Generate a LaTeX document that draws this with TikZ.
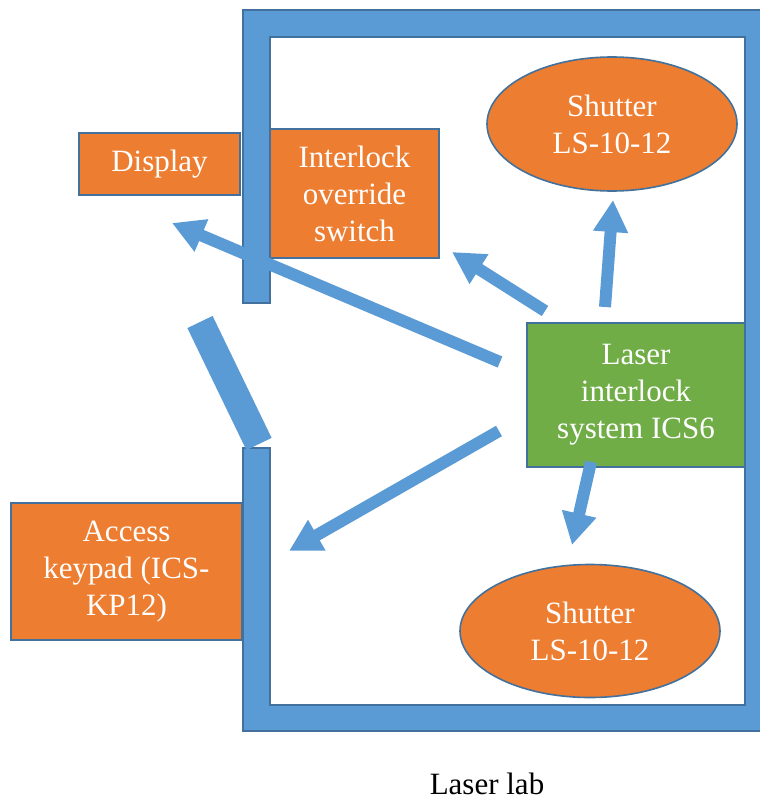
\documentclass[tikz,border=0pt]{standalone}
\usepackage{fontspec}
\setmainfont{Liberation Serif}
\usetikzlibrary{shapes.geometric,arrows.meta,positioning}

\definecolor{wallblue}{HTML}{5B9BD5}
\definecolor{edgeblue}{HTML}{41719C}
\definecolor{boxorange}{HTML}{ED7D31}
\definecolor{boxgreen}{HTML}{70AD47}

\tikzset{
  device/.style={rectangle, fill=boxorange, draw=edgeblue, line width=0.8pt,
    text=white, align=center, inner sep=0pt, font=\fontsize{15.5}{18.5}\selectfont},
  shutter/.style={device, ellipse},
  signal/.style={wallblue, line width=6pt, -{Triangle[width=16.5pt,length=16pt]}},
}

\begin{document}
\begin{tikzpicture}[x=0.5pt, y=-0.5pt]
        \useasboundingbox (0,0) rectangle (760,803);
        \clip (0,0) rectangle (760,803);

        % ============================================================
        % LAB WALL with door opening
        % ============================================================
        \filldraw[fill=wallblue, draw=edgeblue, line width=0.8pt]
            (243,303) -- (243,10) -- (772,10) -- (772,731) -- (243,731) -- (243,448)
            -- (270,448) -- (270,705) -- (745,705) -- (745,37) -- (270,37) -- (270,303) -- cycle;
        \draw[wallblue, line width=14pt] (200,322) -- (259,444);

        % ============================================================
        % DEVICES
        % ============================================================
        \node[device, minimum width=80.5pt, minimum height=31pt] (display) at (159.5,164) {Display};
        \node[device, minimum width=84.5pt, minimum height=64.5pt] (override) at (354.5,193.5) {Interlock\\override\\switch};
        \node[device, minimum width=115.5pt, minimum height=68.5pt] (keypad) at (126.5,571.5) {Access\\keypad (ICS-\\KP12)};
        \node[device, fill=boxgreen, minimum width=109pt, minimum height=72pt] (ics) at (636,395) {Laser\\interlock\\system ICS6};

        \node[shutter, minimum width=125pt, minimum height=67pt] (shutterA) at (612,124) {Shutter\\LS-10-12};
        \node[shutter, minimum width=130pt, minimum height=66.5pt] (shutterB) at (590,631) {Shutter\\LS-10-12};

        % ============================================================
        % SIGNALS from the interlock system
        % ============================================================
        \coordinate (dispTail) at (500,362);
        \coordinate (dispTip) at (172,223);
        \coordinate (ovrTail) at (545,311);
        \coordinate (ovrTip) at (452,252);
        \coordinate (shATail) at (605,307);
        \coordinate (shATip) at (613,200);
        \coordinate (keyTail) at (499,431);
        \coordinate (keyTip) at (289,551);
        \coordinate (shBTail) at (591,462);
        \coordinate (shBTip) at (572,545);

        \draw[signal] (dispTail) -- (dispTip);
        \draw[signal] (ovrTail) -- (ovrTip);
        \draw[signal] (shATail) -- (shATip);
        \draw[signal] (keyTail) -- (keyTip);
        \draw[signal] (shBTail) -- (shBTip);

        \node[font=\fontsize{15.5}{18.5}\selectfont] (lab) at (487,784) {Laser lab};
\end{tikzpicture}
\end{document}
